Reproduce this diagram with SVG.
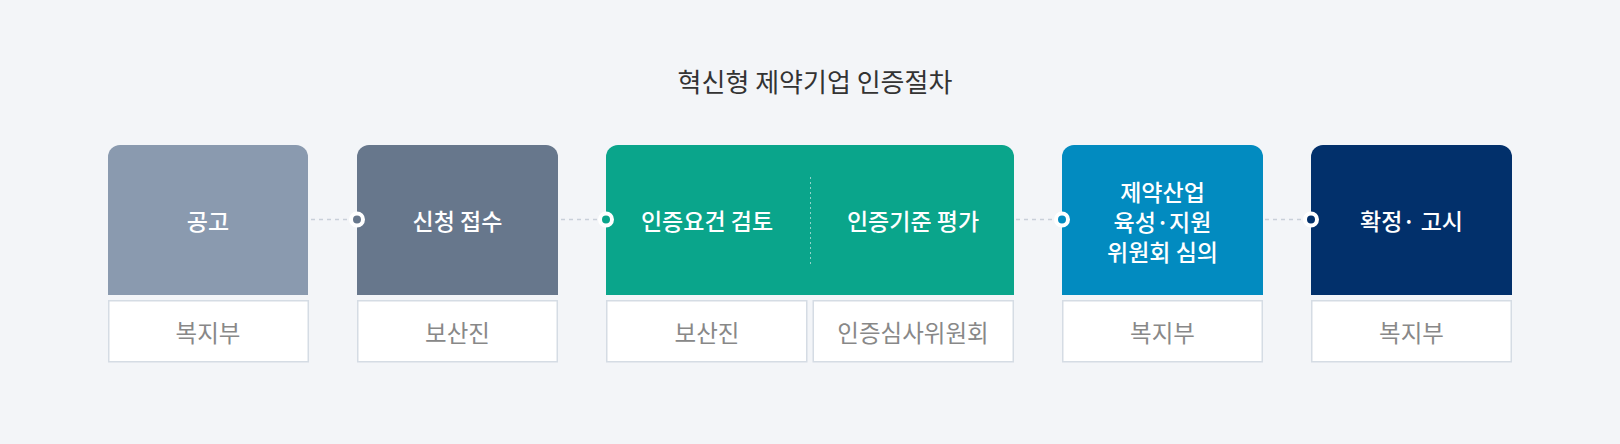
<svg xmlns="http://www.w3.org/2000/svg" width="1620" height="444" viewBox="0 0 1620 444">
<style>
text{font-family:"Noto Sans CJK KR","Noto Sans",sans-serif;text-anchor:middle}
.title{font-size:26px;fill:#333}
.head{font-size:23px;fill:#fff;font-weight:500}
.sub{font-size:23.5px;fill:#888}
.box{fill:#fff;stroke:#d5dce4;stroke-width:1.5}
.dash{stroke:#c9d0d9;stroke-width:1.5;stroke-dasharray:4 4;fill:none}
.dot{stroke:#fff;stroke-width:4}
</style>
<rect width="1620" height="444" fill="#f3f5f8"/>
<text class="title" x="815" y="92">혁신형 제약기업 인증절차</text>
<g id="connectors">
<line class="dash" x1="311" y1="219.5" x2="349" y2="219.5"/>
<line class="dash" x1="561" y1="219.5" x2="598" y2="219.5"/>
<line class="dash" x1="1016" y1="219.5" x2="1054" y2="219.5"/>
<line class="dash" x1="1265" y1="219.5" x2="1303" y2="219.5"/>
</g>
<g id="n1">
<path d="M108,295V157a12,12 0 0 1 12,-12H296a12,12 0 0 1 12,12V295Z" fill="#8a9aaf"/>
<text class="head" x="208" y="230">공고</text>
<rect class="box" x="108.75" y="300.75" width="199.5" height="61"/>
<text class="sub" x="208" y="342">복지부</text>
</g>
<g id="n2">
<path d="M357,295V157a12,12 0 0 1 12,-12H546a12,12 0 0 1 12,12V295Z" fill="#67778c"/>
<text class="head" x="457.5" y="230">신청 접수</text>
<rect class="box" x="357.75" y="300.75" width="199.5" height="61"/>
<text class="sub" x="457.5" y="342">보산진</text>
<circle class="dot" cx="357" cy="219.5" r="6" fill="#67778c"/>
</g>
<g id="n3">
<path d="M606,295V157a12,12 0 0 1 12,-12H1002a12,12 0 0 1 12,12V295Z" fill="#0aa58b"/>
<line x1="810.5" y1="177" x2="810.5" y2="264" stroke="#ffffff" stroke-opacity="0.55" stroke-width="1" stroke-dasharray="2 3"/>
<text class="head" x="707" y="230">인증요건 검토</text>
<text class="head" x="913" y="230">인증기준 평가</text>
<rect class="box" x="606.75" y="300.75" width="200" height="61"/>
<text class="sub" x="707" y="342">보산진</text>
<rect class="box" x="813.25" y="300.75" width="200" height="61"/>
<text class="sub" x="913" y="342">인증심사위원회</text>
<circle class="dot" cx="606" cy="219.5" r="6" fill="#0aa58b"/>
</g>
<g id="n4">
<path d="M1062,295V157a12,12 0 0 1 12,-12H1251a12,12 0 0 1 12,12V295Z" fill="#028bc0"/>
<text class="head" x="1162.5" y="201">제약산업</text>
<text class="head" x="1162.5" y="231">육성·지원</text>
<text class="head" x="1162.5" y="261">위원회 심의</text>
<rect class="box" x="1062.75" y="300.75" width="199.5" height="61"/>
<text class="sub" x="1162.5" y="342">복지부</text>
<circle class="dot" cx="1062" cy="219.5" r="6" fill="#028bc0"/>
</g>
<g id="n5">
<path d="M1311,295V157a12,12 0 0 1 12,-12H1500a12,12 0 0 1 12,12V295Z" fill="#02306b"/>
<text class="head" x="1411.5" y="230">확정· 고시</text>
<rect class="box" x="1311.75" y="300.75" width="199.5" height="61"/>
<text class="sub" x="1411.5" y="342">복지부</text>
<circle class="dot" cx="1311" cy="219.5" r="6" fill="#02306b"/>
</g>
</svg>
